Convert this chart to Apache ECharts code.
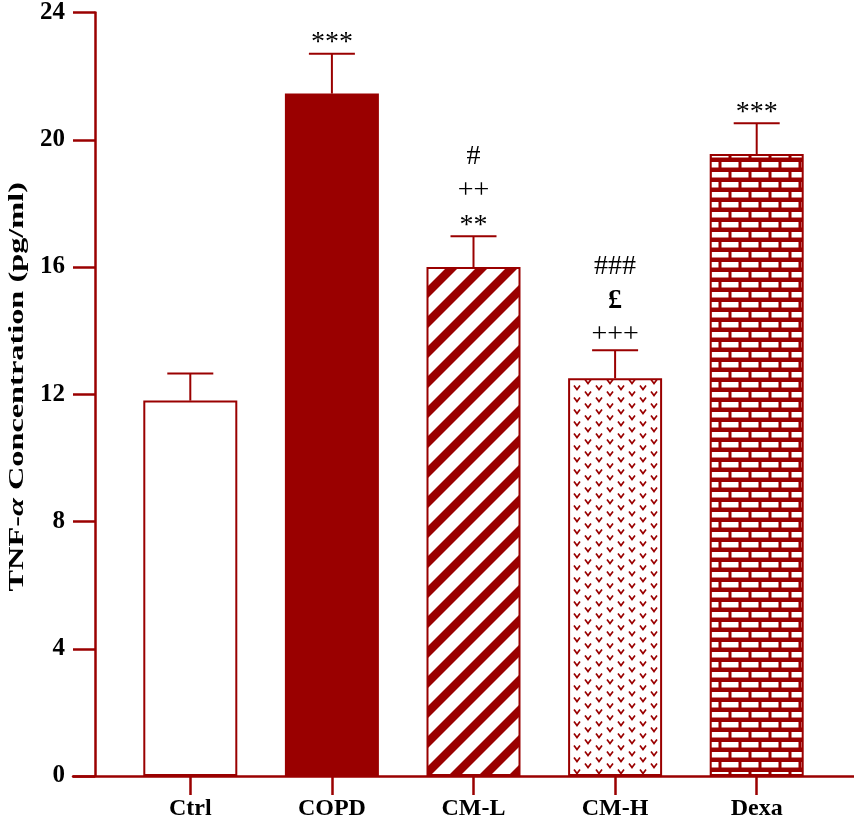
<!DOCTYPE html>
<html>
<head>
<meta charset="utf-8">
<script src="https://cdn.jsdelivr.net/npm/echarts@6/dist/echarts.min.js"></script>
<style>
  html, body { margin: 0; padding: 0; background: #fff; }
  #chart { width: 854px; height: 821px; }
</style>
</head>
<body>
<div id="chart"></div>
<script>
var categories = ['Ctrl', 'COPD', 'CM-L', 'CM-H', 'Dexa'];
var means = [11.8, 21.45, 16.0, 12.5, 19.55];
var sems = [0.85, 1.25, 0.97, 0.88, 0.97];
// significance marks, listed from the bar upwards
var marks = [[], ['***'], ['**', '++', '#'], ['+++', '£', '###'], ['***']];
var yTicks = [0, 4, 8, 12, 16, 20, 24];

var RED = '#9a0000';

// fill patterns
function makeTile(w, h, draw) {
  var c = document.createElement('canvas');
  c.width = w; c.height = h;
  draw(c.getContext('2d'));
  return { image: c, repeat: 'repeat' };
}
var stripes = makeTile(30, 30, function (g) {
  g.fillStyle = '#fff'; g.fillRect(0, 0, 30, 30);
  g.strokeStyle = RED; g.lineWidth = 8.5;
  for (var k = -2; k <= 2; k++) {
    g.beginPath(); g.moveTo(k * 30 - 30, 60); g.lineTo(k * 30 + 60, -30); g.stroke();
  }
});
var vees = makeTile(22, 12, function (g) {
  g.fillStyle = '#fff'; g.fillRect(0, 0, 22, 12);
  g.strokeStyle = RED; g.lineWidth = 1.7;
  function v(x, y) {
    g.beginPath();
    g.moveTo(x - 3, y - 2); g.lineTo(x, y + 2); g.lineTo(x + 3, y - 2);
    g.stroke();
  }
  v(5, 3.5); v(16, 9.5); v(16, -2.5);
});
var bricks = makeTile(20, 20, function (g) {
  g.fillStyle = RED; g.fillRect(0, 0, 20, 20);
  g.fillStyle = '#fff';
  g.fillRect(1.5, 2, 17, 5.5);
  g.fillRect(-8.5, 12, 17, 5.5);
  g.fillRect(11.5, 12, 17, 5.5);
});
var fills = ['#fff', RED, stripes, vees, bricks];

var myChart = echarts.init(document.getElementById('chart'));

var barData = [];
var errData = [];
for (var i = 0; i < categories.length; i++) {
  barData.push({ value: means[i], itemStyle: { color: fills[i] } });
  errData.push([i, means[i], sems[i]]);
}

function renderErr(params, api) {
  var i = api.value(0);
  var top = api.coord([i, api.value(1) + api.value(2)]);
  var base = api.coord([i, api.value(1)]);
  var st = { stroke: RED, lineWidth: 2 };
  var kids = [
    { type: 'line', shape: { x1: base[0], y1: base[1], x2: top[0], y2: top[1] }, style: st },
    { type: 'line', shape: { x1: top[0] - 23, y1: top[1], x2: top[0] + 23, y2: top[1] }, style: st }
  ];
  var m = marks[i];
  var first = m.length && m[0].indexOf('*') >= 0 ? 12 : 16;
  for (var j = 0; j < m.length; j++) {
    var isStar = m[j].indexOf('*') >= 0;
    kids.push({
      type: 'text',
      style: {
        text: m[j], x: top[0], y: top[1] - first - j * 34 + (isStar ? 1 : 0),
        align: 'center', verticalAlign: 'middle',
        fill: '#000',
        font: (m[j] === '£' ? 'bold ' : '') + '28px "Liberation Serif", serif'
      }
    });
  }
  return { type: 'group', children: kids };
}

var option = {
  backgroundColor: '#fff',
  animation: false,
  grid: [
    { left: 119.5, right: 26.5, top: 10, bottom: 45 },
    { left: 73, right: 0, top: 10, bottom: 45 }
  ],
  graphic: [{
    type: 'text', left: 6, top: 182, rotation: Math.PI / 2, scaleX: 1.47,
    style: {
      text: '{b|TNF-}{i|α}{b| Concentration (pg/ml)}',
      rich: {
        b: { fontFamily: 'Liberation Serif', fontWeight: 'bold', fontSize: 22, fill: '#000' },
        i: { fontFamily: 'Liberation Serif', fontWeight: 'bold', fontStyle: 'italic', fontSize: 22, fill: '#000' }
      }
    }
  }],
  xAxis: [
    {
      type: 'category', gridIndex: 0, data: categories,
      axisLine: { show: false },
      axisTick: { show: true, alignWithLabel: true, length: 19, lineStyle: { color: RED, width: 2.5 } },
      axisLabel: { margin: 21, color: '#000', fontFamily: 'Liberation Serif', fontWeight: 'bold', fontSize: 24 }
    },
    {
      type: 'value', gridIndex: 1, min: 0, max: 1,
      axisLine: { show: true, lineStyle: { color: RED, width: 2.5 } },
      axisTick: { show: false }, axisLabel: { show: false }, splitLine: { show: false }
    }
  ],
  yAxis: [
    {
      type: 'value', gridIndex: 0, min: yTicks[0], max: yTicks[yTicks.length - 1], interval: 4,
      offset: 24.5,
      axisLine: { show: true, lineStyle: { color: RED, width: 2.5 } },
      axisTick: { show: true, length: 22, lineStyle: { color: RED, width: 2.5 } },
      axisLabel: { margin: 30, color: '#000', fontFamily: 'Liberation Serif', fontWeight: 'bold', fontSize: 25 },
      splitLine: { show: false }
    },
    { type: 'value', gridIndex: 1, show: false, min: 0, max: 1 }
  ],
  series: [
    {
      type: 'bar', xAxisIndex: 0, yAxisIndex: 0, barWidth: 94, data: barData,
      itemStyle: { borderColor: RED, borderWidth: 2 }
    },
    {
      type: 'custom', xAxisIndex: 0, yAxisIndex: 0, data: errData,
      renderItem: renderErr, z: 3
    }
  ]
};
myChart.setOption(option);
</script>
</body>
</html>
